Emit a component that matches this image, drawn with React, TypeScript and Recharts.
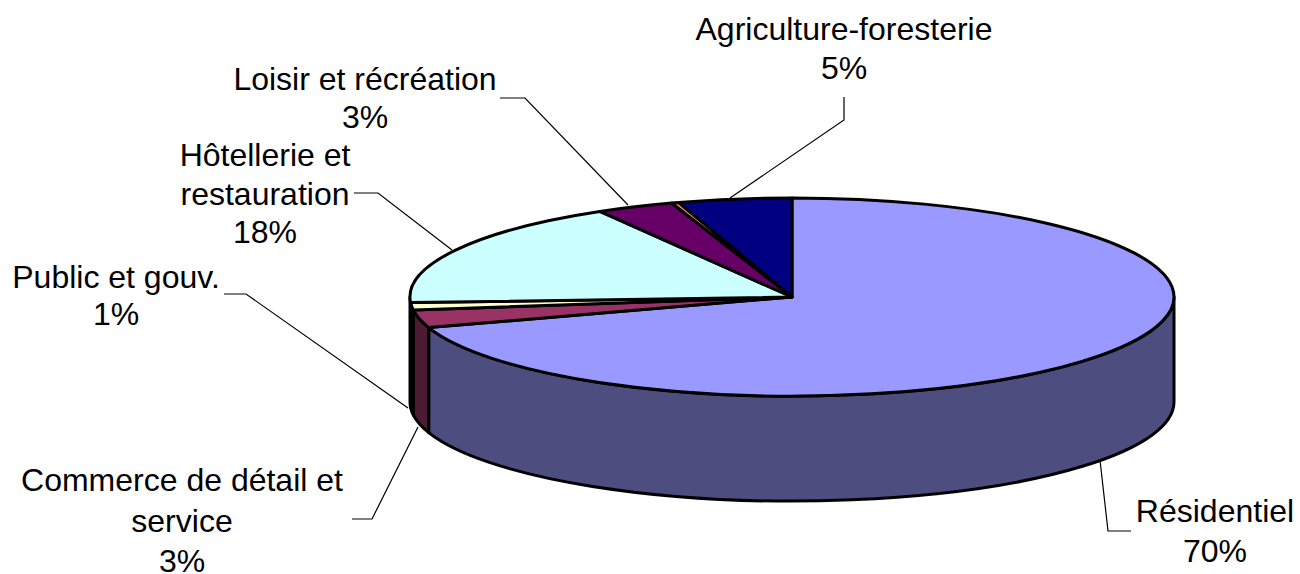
import React from 'react';
import { PieChart, Pie, Cell } from 'recharts';

const categories = ['Résidentiel', 'Commerce de détail et service', 'Public et gouv.', 'Hôtellerie et restauration', 'Loisir et récréation', 'Autre', 'Agriculture-foresterie'];
const values = [70, 2.9, 1.2, 17.51, 3.29, 0.3, 4.8];
const labelLines = [['Résidentiel'], ['Commerce de détail et', 'service'], ['Public et gouv.'], ['Hôtellerie et', 'restauration'], ['Loisir et récréation'], [], ['Agriculture-foresterie']];
const topColors = ['#9999FF', '#993366', '#FFFFCC', '#CCFFFF', '#660066', '#FF8080', '#000080'];
const wallColors = ['#4D4D80', '#4D1A33', '#808066', '#668080', '#330033', '#804040', '#000040'];

const data = categories.map((name, i) => ({ name, value: values[i] }));

const TILT = 99 / 382;
const DEPTH = 105;
const FONT = '"Liberation Sans", Arial, sans-serif';
const FS = 32;

// label layout: centre x, first baseline, line height, leader polyline
const layout = [
  { x: 1215, y: 522, lh: 40, line: [[1100, 460], [1108, 531], [1131, 531]] },
  { x: 182, y: 491, lh: 40.5, line: [[418, 427], [372, 519], [352, 519]] },
  { x: 116, y: 288, lh: 37, line: [[408, 408], [246, 294], [224, 294]] },
  { x: 265, y: 166, lh: 38.5, line: [[452, 250], [378, 193], [354, 193]] },
  { x: 365, y: 90, lh: 38, line: [[628, 205], [525, 98], [500, 98]] },
  null,
  { x: 844, y: 40, lh: 38.5, line: [[730, 198], [844, 120], [844, 97]] },
];

const pt = (cx: number, cy: number, r: number, deg: number) => {
  const a = (deg * Math.PI) / 180;
  return [cx + r * Math.cos(a), cy - r * TILT * Math.sin(a)];
};

function TopSector(p: any) {
  const { cx, cy, outerRadius: r, startAngle, endAngle, fill } = p;
  const [x0, y0] = pt(cx, cy, r, startAngle);
  const [x1, y1] = pt(cx, cy, r, endAngle);
  const large = Math.abs(endAngle - startAngle) > 180 ? 1 : 0;
  return (
    <path
      d={`M${cx},${cy}L${x0},${y0}A${r},${r * TILT} 0 ${large} 1 ${x1},${y1}Z`}
      fill={fill}
      stroke="#000"
      strokeWidth={3}
      strokeLinejoin="round"
    />
  );
}

function WallSector(p: any) {
  const { cx, cy, outerRadius: r, startAngle, endAngle, fill } = p;
  const a0 = Math.min(startAngle, 0);
  const a1 = Math.max(endAngle, -180);
  if (a0 <= a1) return null;
  const [x0, y0] = pt(cx, cy, r, a0);
  const [x1, y1] = pt(cx, cy, r, a1);
  const ry = r * TILT;
  return (
    <path
      d={`M${x0},${y0}A${r},${ry} 0 0 1 ${x1},${y1}L${x1},${y1 + DEPTH}A${r},${ry} 0 0 0 ${x0},${y0 + DEPTH}Z`}
      fill={fill}
      stroke="#000"
      strokeWidth={3}
      strokeLinejoin="round"
    />
  );
}

function renderLabel(p: any) {
  const l = layout[p.index];
  if (!l) return null;
  const lines = [...labelLines[p.index], `${Math.round(p.percent * 100)}%`];
  return (
    <g>
      <polyline points={l.line.map((q) => q.join(',')).join(' ')} fill="none" stroke="#000" strokeWidth={1.2} />
      <text textAnchor="middle" fontFamily={FONT} fontSize={FS} fill="#000">
        {lines.map((t, i) => (
          <tspan key={i} x={l.x} y={l.y + i * l.lh}>{t}</tspan>
        ))}
      </text>
    </g>
  );
}

export default function App() {
  return (
    <div style={{ position: 'absolute', left: 0, top: 0, width: 1300, height: 574, background: '#fff' }}>
      <PieChart width={1300} height={574} margin={{ top: 0, right: 0, bottom: 0, left: 0 }}>
        <Pie data={data} dataKey="value" nameKey="name" cx={792} cy={297} outerRadius={382} startAngle={90} endAngle={-270} isAnimationActive={false} shape={WallSector} label={false} labelLine={false}>
          {data.map((d, i) => <Cell key={d.name} fill={wallColors[i]} />)}
        </Pie>
        <Pie data={data} dataKey="value" nameKey="name" cx={792} cy={297} outerRadius={382} startAngle={90} endAngle={-270} isAnimationActive={false} shape={TopSector} label={renderLabel} labelLine={false}>
          {data.map((d, i) => <Cell key={d.name} fill={topColors[i]} />)}
        </Pie>
      </PieChart>
    </div>
  );
}
